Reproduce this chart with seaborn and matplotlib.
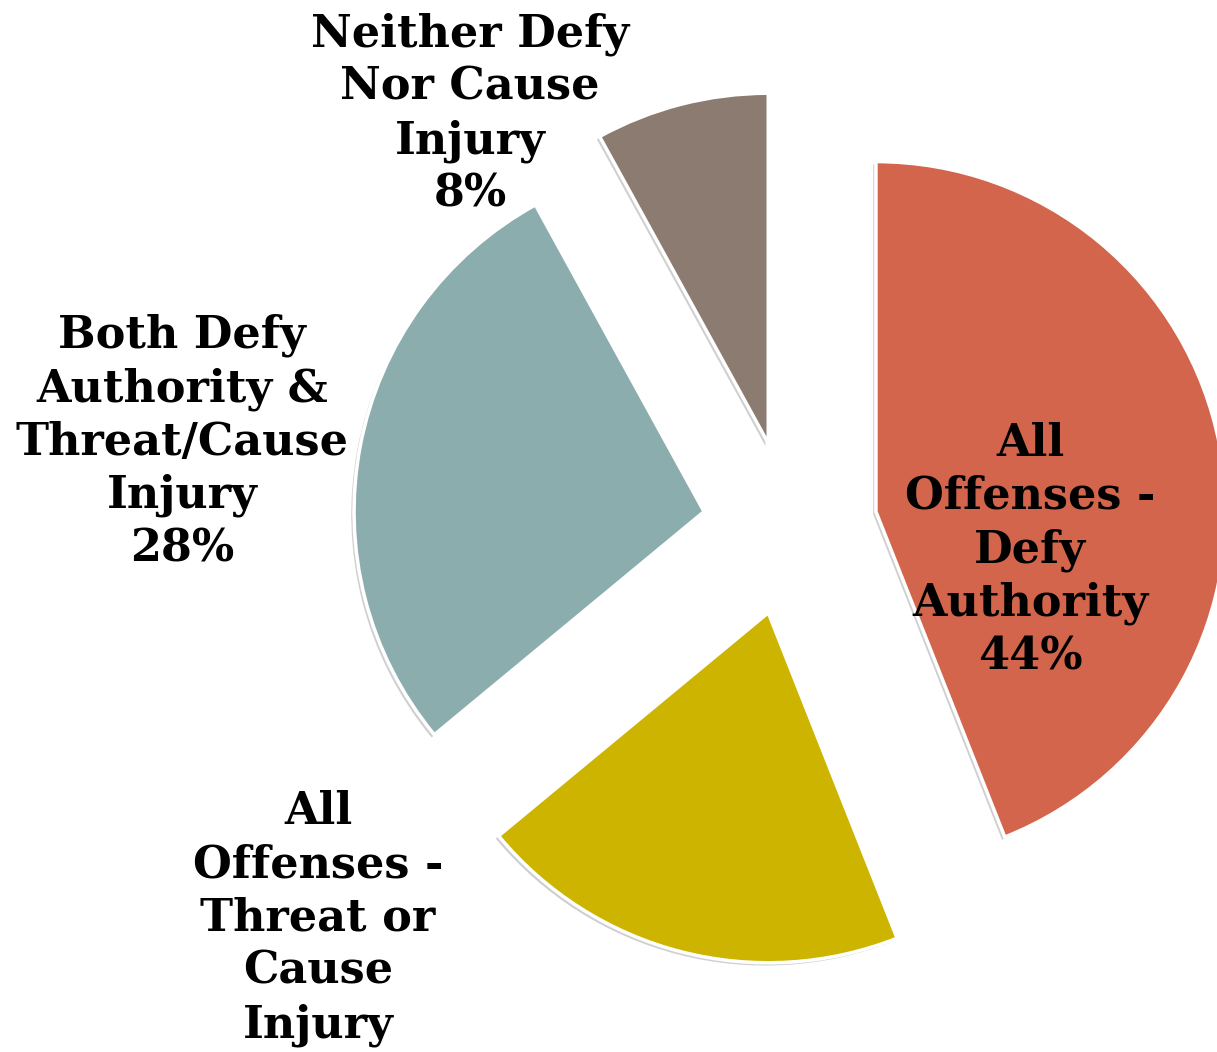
import matplotlib
matplotlib.use("Agg")
import matplotlib.pyplot as plt
import matplotlib.patheffects as pe
import seaborn as sns

categories = ["All\nOffenses -\nDefy\nAuthority",
              "All\nOffenses -\nThreat or\nCause\nInjury",
              "Both Defy\nAuthority &\nThreat/Cause\nInjury",
              "Neither Defy\nNor Cause\nInjury"]
values = [44, 20, 28, 8]
colors = ["#D2654B", "#CDB400", "#8CADAE", "#8B7B70"]

sns.set_theme(style="white")
plt.rcParams['font.family'] = ['DejaVu Serif']

W, H = 1217, 1052
fig = plt.figure(figsize=(W / 100, H / 100), dpi=100)
ax = fig.add_axes([0, 0, 1, 1])

R = 350.0
cx, cy = 790.0, 528.0
wedges, _ = ax.pie(values, colors=colors, startangle=90, counterclock=False,
                   explode=[0.25] * len(values), radius=1.0,
                   wedgeprops=dict(edgecolor="white", linewidth=2.5))
for w in wedges:
    w.set_path_effects([pe.SimplePatchShadow(offset=(-2, -2), alpha=0.35, shadow_rgbFace="#777777"),
                        pe.Normal()])

ax.set_xlim(-cx / R, (W - cx) / R)
ax.set_ylim(-(H - cy) / R, cy / R)
ax.set_aspect("auto")
ax.axis("off")

label_pos = [(1030, 550), (318, 945), (182, 442), (470, 114)]
for cat, v, (px, py) in zip(categories, values, label_pos):
    fig.text(px / W, 1 - py / H, f"{cat}\n{v}%", ha="center", va="center",
             fontsize=32, fontweight="bold", color="black", linespacing=1.3,
             multialignment="center")

fig.savefig("out.png", dpi=100)
